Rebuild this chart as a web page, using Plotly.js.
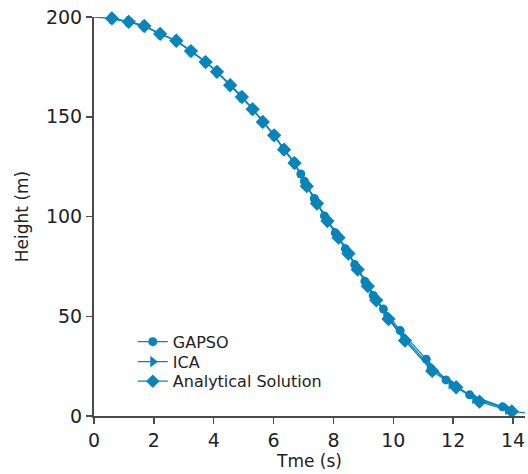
<!DOCTYPE html>
<html>
<head>
<meta charset="utf-8">
<script src="https://cdn.plot.ly/plotly-3.0.1.min.js"></script>
<style>
  html, body { margin: 0; padding: 0; background: #fff; }
  #chart { width: 528px; height: 474px; }
</style>
</head>
<body>
<div id="chart"></div>
<script>
// Falling-body height over time: two optimiser results vs. the analytical curve
const seriesNames = ["GAPSO", "ICA", "Analytical Solution"];

const timeGapso = [0.60, 1.16, 1.68, 2.21, 2.75, 3.24, 3.73, 4.11, 4.55, 4.94, 5.30, 5.64, 6.00, 6.33, 6.68, 6.91,
                   7.03, 7.36, 7.70, 8.06, 8.40, 8.71, 9.05, 9.33, 9.67, 10.23, 11.10, 11.76, 12.55, 13.65];
const heightGapso = [199.3, 197.6, 195.5, 191.6, 188.1, 183.0, 177.4, 172.5, 165.9, 160.0, 153.8, 147.5, 141.0, 134.0, 127.3, 121.3,
                     117.7, 109.0, 100.3, 91.8, 83.8, 75.9, 67.5, 60.4, 53.6, 42.8, 28.5, 18.1, 10.6, 4.6];

const timeIca = [0.60, 1.16, 1.68, 2.21, 2.75, 3.24, 3.73, 4.11, 4.55, 4.94, 5.30, 5.64, 6.02, 6.35, 6.70,
                 7.02, 7.36, 7.71, 8.08, 8.41, 8.72, 9.06, 9.34, 9.75, 10.32, 11.20, 11.93, 12.72, 13.82];
const heightIca = [199.3, 197.6, 195.5, 191.5, 188.1, 182.9, 177.4, 172.5, 165.8, 159.9, 153.8, 147.4, 140.7, 133.5, 126.8,
                   117.6, 108.9, 100.2, 91.9, 83.8, 75.8, 67.5, 60.4, 50.9, 40.0, 25.3, 16.2, 8.8, 3.4];

const timeAnalytical = [0, 0.60, 1.16, 1.68, 2.21, 2.75, 3.24, 3.73, 4.11, 4.55, 4.94, 5.30, 5.64, 6.02, 6.35, 6.70,
                        7.11, 7.45, 7.80, 8.17, 8.50, 8.81, 9.15, 9.43, 9.84, 10.39, 11.30, 12.10, 12.88, 13.96, 14.4];
const heightAnalytical = [200, 199.3, 197.6, 195.5, 191.5, 188.1, 182.9, 177.4, 172.5, 165.8, 159.9, 153.8, 147.4, 140.7, 133.5, 126.8,
                          115.2, 106.5, 97.7, 89.4, 81.4, 73.4, 65.1, 58.0, 48.6, 37.8, 22.6, 14.4, 7.2, 2.3, 1.6];

const xTicks = [0, 2, 4, 6, 8, 10, 12, 14];
const yTicks = [0, 50, 100, 150, 200];

const blue = "#0784b9";
const textColor = "#222222";
const axisColor = "#4a4a4a";
const fontFamily = "DejaVu Sans, sans-serif";

// the analytical curve starts at t = 0 and runs to the axis end, but those end points carry no marker
const analyticalSizes = timeAnalytical.map((t, i) => (i === 0 || i === timeAnalytical.length - 1) ? 0 : 11);

function seriesTrace(name, x, y, symbol, size, legendId) {
  return {
    name: name, x: x, y: y, legend: legendId,
    type: "scatter", mode: "lines+markers", cliponaxis: false,
    line: { color: blue, width: 1.3 },
    marker: { symbol: symbol, size: size, color: blue, opacity: 1, line: { width: 0, color: blue } }
  };
}

const traces = [
  seriesTrace(seriesNames[0], timeGapso, heightGapso, "circle", 9, "legend"),
  seriesTrace(seriesNames[1], timeIca, heightIca, "triangle-right", 10, "legend2"),
  seriesTrace(seriesNames[2], timeAnalytical, heightAnalytical, "diamond", analyticalSizes, "legend3")
];

// one legend per series so each row sits at its own height
function legendBox(yPos) {
  return {
    x: 0.09, y: yPos, xanchor: "left", yanchor: "middle",
    bgcolor: "rgba(0,0,0,0)", borderwidth: 0,
    font: { family: fontFamily, size: 16, color: textColor },
    itemwidth: 30
  };
}

const layout = {
  width: 528, height: 474,
  margin: { l: 94, r: 3, t: 17, b: 58 },
  paper_bgcolor: "#ffffff", plot_bgcolor: "#ffffff",
  font: { family: fontFamily, color: textColor, size: 19 },
  showlegend: true,
  legend: legendBox(0.186),
  legend2: legendBox(0.136),
  legend3: legendBox(0.087),
  xaxis: {
    range: [0, 14.4], tickvals: xTicks, ticktext: xTicks.map(String),
    showgrid: false, zeroline: false,
    showline: true, linecolor: axisColor, linewidth: 2,
    ticks: "outside", ticklen: 6, tickwidth: 1.5, tickcolor: axisColor,
    tickfont: { family: fontFamily, size: 19, color: textColor },
    title: { text: "Tme (s)", font: { family: fontFamily, size: 17, color: textColor }, standoff: 3 }
  },
  yaxis: {
    range: [0, 200], tickvals: yTicks, ticktext: yTicks.map(String),
    showgrid: false, zeroline: false,
    showline: true, linecolor: axisColor, linewidth: 2,
    ticks: "outside", ticklen: 6, tickwidth: 1.5, tickcolor: axisColor,
    tickfont: { family: fontFamily, size: 19, color: textColor },
    title: { text: "Height (m)", font: { family: fontFamily, size: 17, color: textColor }, standoff: 13 }
  }
};

Plotly.newPlot("chart", traces, layout, { displayModeBar: false, staticPlot: true });
</script>
</body>
</html>
